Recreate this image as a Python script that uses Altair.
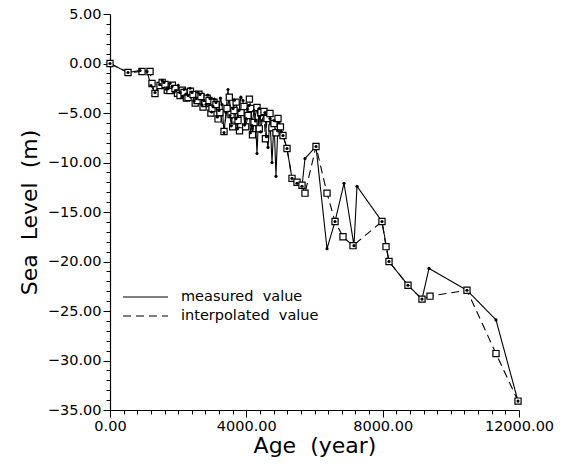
import altair as alt
import pandas as pd

# measured values (age in years, sea level in m)
measured_age = [0, 528, 880, 1086, 1203, 1320, 1467, 1530, 1584, 1650, 1702, 1760, 1819, 1880,
                1936, 2000, 2054, 2110, 2171, 2230, 2289, 2350, 2406, 2470, 2523, 2580, 2641,
                2700, 2758, 2817, 2870, 2934, 2980, 3022, 3060, 3110, 3150, 3198, 3240, 3286,
                3345, 3403, 3462, 3521, 3560, 3609, 3650, 3697, 3740, 3785, 3840, 3902, 3950,
                3990, 4030, 4078, 4120, 4166, 4225, 4270, 4313, 4372, 4420, 4460, 4548, 4590,
                4636, 4694, 4753, 4812, 4870, 4920, 4958, 5020, 5076, 5193, 5340, 5487, 5633,
                5721, 6044, 6367, 6602, 6866, 7159, 7247, 7980, 8186, 8743, 9154, 9359, 10474,
                11325, 11971]
measured_sl = [0.0, -0.91, -0.71, -0.81, -2.22, -2.93, -2.12, -1.7, -1.92, -2.6, -2.53, -2.0,
               -2.32, -2.9, -2.73, -2.2, -2.93, -3.4, -2.63, -3.1, -3.23, -2.5, -2.93, -3.8,
               -3.54, -2.9, -3.13, -4.2, -3.74, -4.14, -3.2, -3.54, -4.9, -4.34, -3.6, -3.94,
               -5.4, -4.75, -3.5, -4.14, -6.97, -4.95, -2.63, -5.25, -6.3, -4.55, -3.7, -5.56,
               -6.6, -4.75, -3.4, -3.74, -6.2, -5.56, -4.6, -4.24, -7.0, -6.26, -4.75, -5.8,
               -9.09, -4.55, -6.9, -5.76, -4.95, -7.4, -8.48, -5.56, -10.0, -5.76, -11.4, -6.8,
               -5.96, -6.9, -7.27, -8.59, -11.6, -12.1, -12.4, -9.6, -8.38, -18.7, -15.96,
               -12.1, -18.4, -12.4, -15.96, -20.0, -22.4, -23.8, -20.7, -22.9, -25.9, -34.1]

# interpolated values
interp_age = [0, 528, 939, 1174, 1232, 1320, 1467, 1530, 1614, 1680, 1760, 1830, 1907, 1980,
              2054, 2120, 2171, 2240, 2289, 2360, 2435, 2500, 2553, 2610, 2670, 2730, 2787,
              2850, 2905, 2960, 2993, 3050, 3110, 3170, 3227, 3345, 3433, 3500, 3550, 3600,
              3638, 3700, 3756, 3800, 3844, 3932, 3980, 4049, 4090, 4137, 4180, 4225, 4313,
              4380, 4430, 4518, 4560, 4606, 4694, 4750, 4812, 4870, 4929, 5000, 5076, 5193,
              5340, 5487, 5633, 5721, 6044, 6367, 6602, 6836, 7130, 7980, 8098, 8186, 8743,
              9154, 9389, 10474, 11325, 11971]
interp_sl = [0.0, -0.91, -0.81, -0.81, -2.02, -3.03, -2.22, -1.9, -2.12, -2.7, -2.73, -2.2,
             -2.53, -3.0, -3.23, -2.7, -2.93, -3.5, -3.43, -2.8, -3.13, -4.0, -3.74, -3.1,
             -3.33, -4.4, -4.04, -3.5, -3.74, -5.0, -4.55, -3.9, -4.14, -5.6, -4.95, -6.87,
             -4.55, -3.4, -5.15, -6.4, -4.75, -3.9, -5.76, -6.8, -4.95, -4.34, -6.4, -5.25,
             -3.6, -4.55, -7.2, -5.96, -4.44, -6.6, -4.95, -4.85, -7.6, -5.56, -5.05, -6.5,
             -6.06, -7.0, -5.56, -6.4, -7.27, -8.59, -11.6, -12.0, -12.3, -13.1, -8.38, -13.1,
             -15.96, -17.5, -18.4, -15.96, -18.5, -20.0, -22.4, -23.8, -23.5, -22.9, -29.3,
             -34.1]

NB = "\u00a0"
series_names = ["measured" + NB + NB + "value", "interpolated" + NB + NB + "value"]

df = pd.concat([
    pd.DataFrame({"age": measured_age, "sl": measured_sl, "series": series_names[0]}),
    pd.DataFrame({"age": interp_age, "sl": interp_sl, "series": series_names[1]}),
])

FONT = "DejaVu Sans"

x_enc = alt.X("age:Q", scale=alt.Scale(domain=[0, 12000], nice=False),
              axis=alt.Axis(values=list(range(0, 12001, 400)),
                            labelExpr="datum.value % 4000 === 0 ? format(datum.value, '.2f') : ''",
                            tickSize={"condition": {"test": "datum.value % 4000 === 0", "value": 7}, "value": 4},
                            labelOverlap=False, labelFlush=False, grid=False,
                            title="Age" + NB + NB + "(year)", titleFontSize=22, titlePadding=3,
                            labelFontSize=14.5, labelPadding=2))
y_enc = alt.Y("sl:Q", scale=alt.Scale(domain=[-35, 5], nice=False),
              axis=alt.Axis(values=list(range(-35, 6, 1)),
                            labelExpr="datum.value % 5 === 0 ? format(datum.value, '.2f') : ''",
                            tickSize={"condition": {"test": "datum.value % 5 === 0", "value": 7}, "value": 4},
                            labelOverlap=False, labelFlush=False, grid=False,
                            title="Sea" + NB + NB + "Level" + NB + NB + "(m)", titleFontSize=22,
                            titlePadding=6, labelFontSize=14.5, labelPadding=2))

base = alt.Chart(df).encode(x=x_enc, y=y_enc)

lines = base.mark_line(color="black", strokeWidth=1.1).encode(
    strokeDash=alt.StrokeDash("series:N",
                              scale=alt.Scale(domain=series_names, range=[[1, 0], [8, 5]]),
                              legend=alt.Legend(orient="none", legendX=12, legendY=275,
                                                title=None, symbolType="stroke", symbolSize=2025,
                                                symbolStrokeColor="black", symbolStrokeWidth=1.2,
                                                clipHeight=16, rowPadding=3, labelFontSize=14.5,
                                                labelOffset=12, padding=0)),
    detail="series:N",
)

squares = base.transform_filter(alt.datum.series == series_names[1]).mark_point(
    shape="square", size=38, filled=True, fill="white", stroke="black", strokeWidth=1.2, opacity=1
)

dots = base.transform_filter(alt.datum.series == series_names[0]).mark_point(
    shape="circle", size=10, filled=True, color="black", opacity=1
)

chart = alt.layer(lines, squares, dots).properties(
    width=409, height=396,
    autosize=alt.AutoSizeParams(type="none"),
    padding={"left": 110, "top": 14, "right": 45, "bottom": 66},
).configure_view(stroke=None).configure_axis(
    domainColor="black", tickColor="black", labelColor="black", titleColor="black",
    labelFont=FONT, titleFont=FONT, titleFontWeight="normal", domainWidth=1.2, tickWidth=1,
    labelOverlap=False
).configure_legend(labelFont=FONT, labelColor="black")

chart.save("out.html", embed_options={"renderer": "svg", "actions": False})
